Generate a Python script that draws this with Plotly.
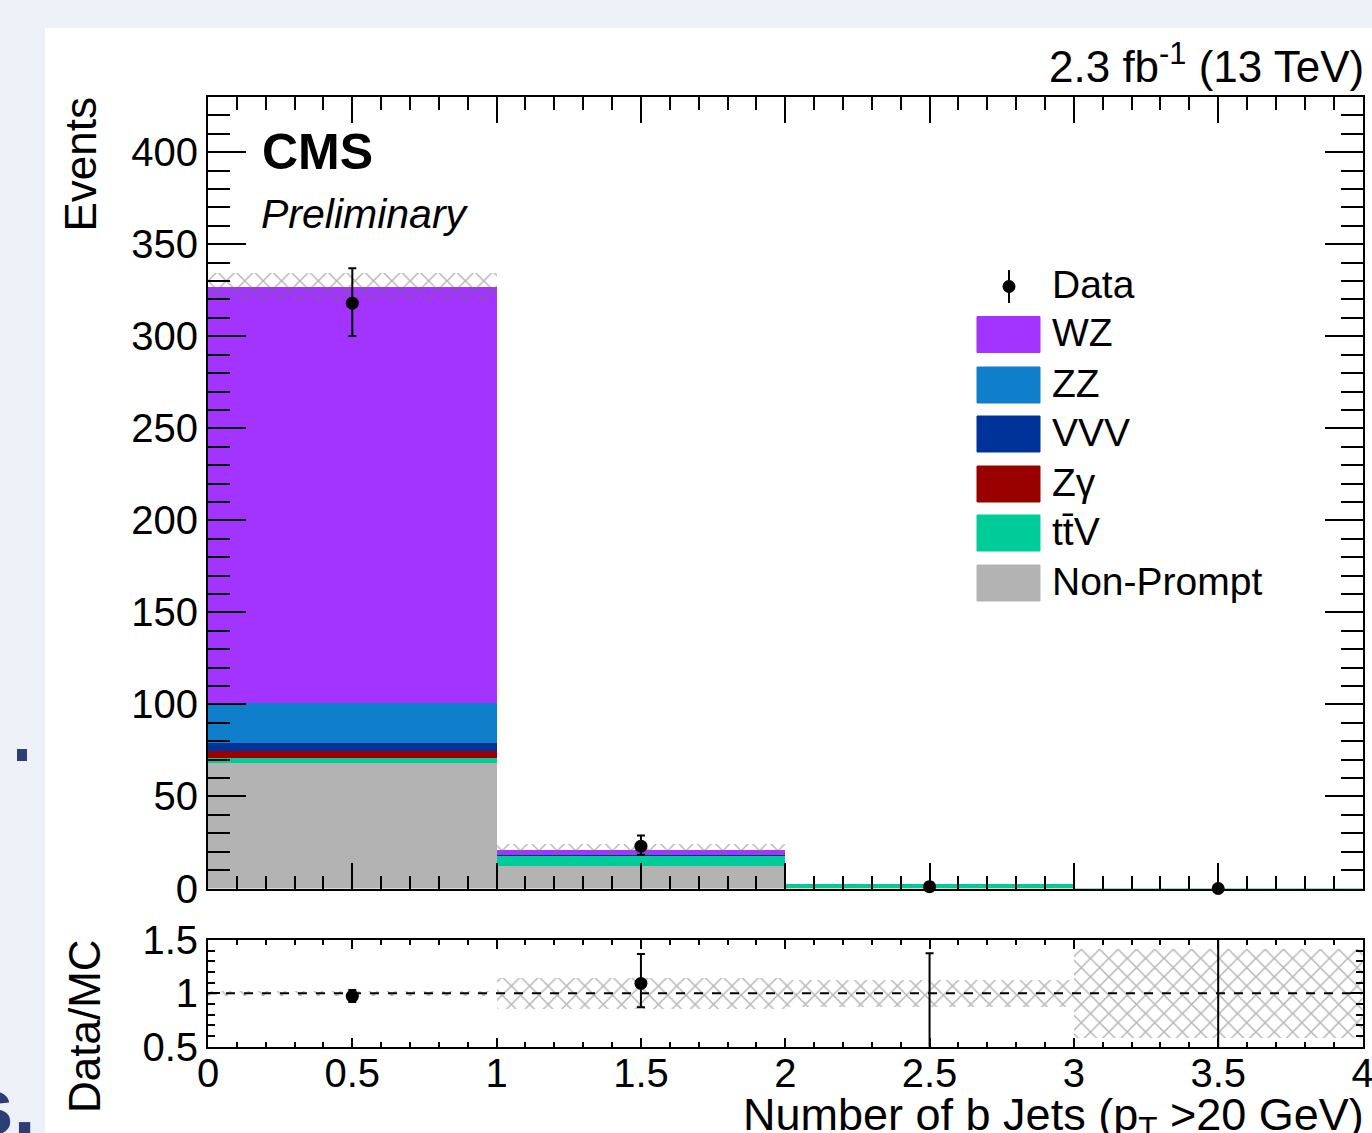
import numpy as np
import plotly.graph_objects as go

# ---------------- data ----------------
bin_centers = [0.5, 1.5, 2.5, 3.5]

# stacked backgrounds, bottom -> top
series_names = ["Non-Prompt", "tt\u0304V", "Z\u03b3", "VVV", "ZZ", "WZ"]
series_colors = ["#b3b3b3", "#00cc99", "#990000", "#003399", "#0f7fcc", "#a333ff"]
nonprompt = [68.0, 12.4, 0.1, 0.0]
ttv = [3.0, 5.7, 2.3, 0.01]
zgamma = [3.8, 0.05, 0.0, 0.0]
vvv = [4.0, 0.1, 0.0, 0.0]
zz = [22.0, 0.2, 0.0, 0.0]
wz = [226.0, 2.6, 0.0, 0.0]

mc_unc = [7.6, 3.1, 0.3, 0.0042]        # total MC uncertainty (hatched)

data_vals = [318, 23, 1, 0]
data_err_up = [18.9, 5.8, 2.3, 1.84]
data_err_dn = [17.8, 4.7, 0.83, 0.0]

x_ticks_ratio = [0, 0.5, 1, 1.5, 2, 2.5, 3, 3.5, 4]

# ---------------- geometry helpers ----------------
W, H = 1372, 1133
def px(x):
    return x / W
def py(y):
    return 1 - y / H

FONT = "Liberation Sans, Arial, Helvetica, sans-serif"

stack = [nonprompt, ttv, zgamma, vvv, zz, wz]
stack_arr = np.array(stack, dtype=float)
bases = np.vstack([np.zeros(4), np.cumsum(stack_arr, axis=0)[:-1]])
mc_total = stack_arr.sum(axis=0)
mc_unc_arr = np.array(mc_unc)
data_arr = np.array(data_vals, dtype=float)
ratio = data_arr / mc_total
ratio_up = np.array(data_err_up) / mc_total
ratio_dn = np.array(data_err_dn) / mc_total
rel_unc = mc_unc_arr / mc_total

fig = go.Figure()

for name, color, vals, base in zip(series_names, series_colors, stack, bases):
    fig.add_trace(go.Bar(
        x=bin_centers, y=vals, base=base, width=1.0, name=name,
        marker=dict(color=color, line=dict(width=0)),
        xaxis="x", yaxis="y", showlegend=False, hoverinfo="skip"))

hatch = dict(shape="x", fgcolor="#6e6e6e", bgcolor="rgba(0,0,0,0)",
             size=13, solidity=0.22, fillmode="overlay")

# MC uncertainty band (main)
fig.add_trace(go.Bar(
    x=bin_centers, y=2 * mc_unc_arr, base=mc_total - mc_unc_arr, width=1.0,
    marker=dict(color="rgba(0,0,0,0)", line=dict(width=0), pattern=hatch),
    xaxis="x", yaxis="y", showlegend=False, hoverinfo="skip"))

# data (main)
fig.add_trace(go.Scatter(
    x=bin_centers, y=data_vals, mode="markers",
    marker=dict(color="black", size=13),
    error_y=dict(type="data", symmetric=False, array=data_err_up,
                 arrayminus=data_err_dn, color="black", thickness=2, width=4),
    xaxis="x", yaxis="y", showlegend=False, cliponaxis=False))

# ratio band
fig.add_trace(go.Bar(
    x=bin_centers, y=2 * rel_unc, base=1 - rel_unc, width=1.0,
    marker=dict(color="rgba(0,0,0,0)", line=dict(width=0), pattern=hatch),
    xaxis="x2", yaxis="y2", showlegend=False, hoverinfo="skip"))

# ratio points
fig.add_trace(go.Scatter(
    x=bin_centers, y=ratio, mode="markers",
    marker=dict(color="black", size=13),
    error_y=dict(type="data", symmetric=False, array=ratio_up,
                 arrayminus=ratio_dn, color="black", thickness=2, width=4),
    xaxis="x2", yaxis="y2", showlegend=False, cliponaxis=True))

xdom = [px(208), px(1362.5)]
axis_common = dict(showline=True, linecolor="black", linewidth=2, mirror="allticks",
                   showgrid=False, zeroline=False, ticks="inside", tickcolor="black",
                   tickwidth=2, automargin=False, ticklabeloverflow="allow",
                   tickfont=dict(family=FONT, size=40, color="black"))

fig.update_layout(
    template="none",
    width=W, height=H, margin=dict(l=0, r=0, t=0, b=0, pad=0, autoexpand=False),
    paper_bgcolor="#edf0f6", plot_bgcolor="white",
    barmode="overlay", bargap=0, showlegend=False,
    font=dict(family=FONT, color="black"),
    xaxis=dict(domain=xdom, range=[0, 4], anchor="y", tickmode="linear", tick0=0,
               dtick=0.5, ticklen=26, showticklabels=False,
               minor=dict(ticks="inside", dtick=0.1, ticklen=13, tickwidth=2,
                          tickcolor="black", showgrid=False),
               **axis_common),
    yaxis=dict(domain=[py(888.5), py(97)], range=[0, 430], anchor="x",
               tickmode="linear", tick0=0, dtick=50, ticklen=38,
               minor=dict(ticks="inside", dtick=10, ticklen=22, tickwidth=2,
                          tickcolor="black", showgrid=False),
               **axis_common),
    xaxis2=dict(domain=xdom, range=[0, 4], anchor="y2", matches="x",
                tickmode="array", tickvals=x_ticks_ratio,
                ticktext=[f"{v:g}" for v in x_ticks_ratio], ticklen=9,
                ticklabelstandoff=-10,
                minor=dict(ticks="inside", dtick=0.1, ticklen=5, tickwidth=2,
                           tickcolor="black", showgrid=False),
                **axis_common),
    yaxis2=dict(domain=[py(1046.7), py(940)], range=[0.5, 1.5], anchor="x2",
                tickmode="linear", tick0=0.5, dtick=0.5, ticklen=12,
                minor=dict(ticks="inside", dtick=0.1, ticklen=7, tickwidth=2,
                           tickcolor="black", showgrid=False),
                **axis_common),
)

shapes = []
# white sheet on the slide
shapes.append(dict(type="rect", xref="paper", yref="paper", x0=px(45), x1=1.01,
                   y0=-0.01, y1=py(28), fillcolor="white", line=dict(width=0),
                   layer="below"))
# slide artefact square
shapes.append(dict(type="rect", xref="paper", yref="paper", x0=px(17), x1=px(27),
                   y0=py(761), y1=py(749), fillcolor="#2c3f75", line=dict(width=0)))
# ratio reference line
shapes.append(dict(type="line", xref="x2", yref="y2", x0=0, x1=4, y0=1, y1=1,
                   line=dict(color="black", width=2, dash="dash")))

# manual legend
leg_x0, leg_x1 = 977, 1040
leg_text_x = 1050
row_centers = [334.5, 385, 434, 484, 533, 583]
legend_order = ["WZ", "ZZ", "VVV", "Z\u03b3", "tt\u0304V", "Non-Prompt"]
LEG_FS = 39
annotations = []
for lbl, yc in zip(legend_order, row_centers):
    col = series_colors[series_names.index(lbl)]
    shapes.append(dict(type="rect", xref="paper", yref="paper",
                       x0=px(leg_x0), x1=px(leg_x1), y0=py(yc + 18), y1=py(yc - 18),
                       fillcolor=col, line=dict(width=1, color=col)))
    annotations.append(dict(text=lbl, x=px(leg_text_x), y=py(yc - 2), xref="paper",
                            yref="paper", xanchor="left", yanchor="middle",
                            showarrow=False, font=dict(family=FONT, size=LEG_FS)))
# data legend entry
shapes.append(dict(type="line", xref="paper", yref="paper", x0=px(1009), x1=px(1009),
                   y0=py(303), y1=py(270), line=dict(color="black", width=2)))
shapes.append(dict(type="circle", xref="paper", yref="paper", x0=px(1002.5), x1=px(1015.5),
                   y0=py(293), y1=py(280), fillcolor="black", line=dict(width=0)))
annotations.append(dict(text="Data", x=px(leg_text_x), y=py(284), xref="paper",
                        yref="paper", xanchor="left", yanchor="middle",
                        showarrow=False, font=dict(family=FONT, size=LEG_FS)))

annotations += [
    dict(text="<b>CMS</b>", x=px(260), y=py(152), xref="paper", yref="paper",
         xanchor="left", yanchor="middle", showarrow=False,
         font=dict(family=FONT, size=50)),
    dict(text="<i>Preliminary</i>", x=px(259), y=py(214), xref="paper", yref="paper",
         xanchor="left", yanchor="middle", showarrow=False,
         font=dict(family=FONT, size=41)),
    dict(text="2.3 fb<sup>-1</sup> (13 TeV)", x=px(1366), y=py(64), xref="paper",
         yref="paper", xanchor="right", yanchor="middle", showarrow=False,
         font=dict(family=FONT, size=44)),
    dict(text="Events", x=px(80), y=py(95), xref="paper", yref="paper",
         xanchor="center", yanchor="top", textangle=-90, showarrow=False,
         font=dict(family=FONT, size=44)),
    dict(text="Data/MC", x=px(84), y=py(1026), xref="paper", yref="paper",
         xanchor="center", yanchor="middle", textangle=-90, showarrow=False,
         font=dict(family=FONT, size=44)),
    dict(text="Number of b Jets (p<sub>T</sub> >20 GeV)", x=px(1366), y=py(1087),
         xref="paper", yref="paper", xanchor="right", yanchor="top", showarrow=False,
         font=dict(family=FONT, size=45)),
    dict(text="<b>s.</b>", x=px(38), y=py(1106), xref="paper", yref="paper",
         xanchor="right", yanchor="middle", showarrow=False,
         font=dict(family=FONT, size=80, color="#2c3f75")),
]

fig.update_layout(shapes=shapes, annotations=annotations)
fig.write_html("out.html", config={"displayModeBar": False},
               post_script="document.body.style.margin='0';"
                           "document.body.style.background='#edf0f6';")
